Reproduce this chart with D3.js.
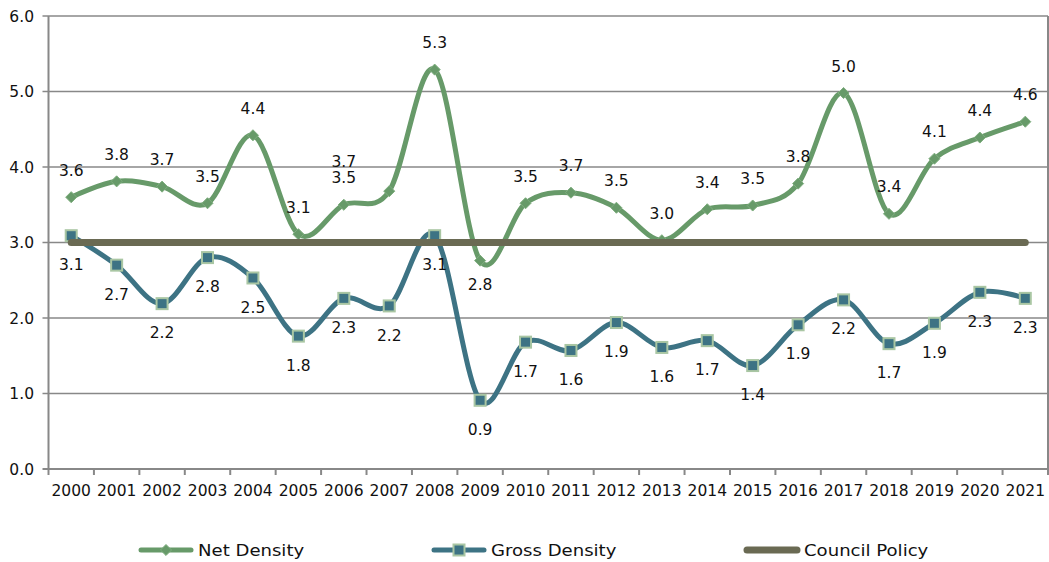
<!DOCTYPE html>
<html>
<head>
<meta charset="utf-8">
<script src="https://cdn.jsdelivr.net/npm/d3@7"></script>
<style>
  html, body { margin: 0; padding: 0; background: #fff; }
  svg { display: block; }
  text { font-family: "DejaVu Sans", Verdana, sans-serif; fill: #111; }
</style>
</head>
<body>
<svg id="chart" width="1049" height="562"></svg>
<script>
// Housing density per year
const years = ["2000","2001","2002","2003","2004","2005","2006","2007","2008","2009","2010",
               "2011","2012","2013","2014","2015","2016","2017","2018","2019","2020","2021"];
const netDensity = [3.60, 3.81, 3.74, 3.52, 4.42, 3.11, 3.50, 3.68, 5.29, 2.76, 3.52,
                    3.66, 3.46, 3.03, 3.44, 3.49, 3.78, 4.98, 3.38, 4.11, 4.39, 4.60];
const grossDensity = [3.09, 2.70, 2.19, 2.80, 2.53, 1.76, 2.26, 2.16, 3.09, 0.91, 1.68,
                      1.57, 1.94, 1.61, 1.70, 1.37, 1.91, 2.24, 1.66, 1.93, 2.34, 2.26];
const councilPolicy = [3.0, 3.0, 3.0, 3.0, 3.0, 3.0, 3.0, 3.0, 3.0, 3.0, 3.0,
                       3.0, 3.0, 3.0, 3.0, 3.0, 3.0, 3.0, 3.0, 3.0, 3.0, 3.0];
const yTicks = [0, 1, 2, 3, 4, 5, 6];
const seriesNames = ["Net Density", "Gross Density", "Council Policy"];
// where each net-density label sits relative to its point
const netLabelPlacement = ["above","above","above","above","above","above","above","aboveLeft",
                           "above","below","above","above","above","above","above","above",
                           "above","above","above","above","above","above"];

const colors = { net: "#679a69", netEdge: "#7fae7f", gross: "#3d7384", grossEdge: "#a9c6a3",
                 council: "#6a6a53", grid: "#888888" };
const FONT = 15.5, STRETCH = 1.0, HALF_CAP = 5.6;

const svg = d3.select("#chart");
const plotLeft = 48.5, plotRight = 1048, plotTop = 16, plotBottom = 469;

const x = d3.scaleBand().domain(years).range([plotLeft, plotRight]).padding(0);
const cx = d => x(d) + x.bandwidth() / 2;
const y = d3.scaleLinear().domain([0, 6]).range([plotBottom, plotTop]);

function label(g, tx, ty, str, anchor, size, sx) {
  return g.append("text")
    .attr("transform", `translate(${tx},${ty}) scale(${sx},1)`)
    .attr("text-anchor", anchor)
    .style("font-size", size + "px")
    .text(str);
}

// Horizontal gridlines
svg.append("g").selectAll("line").data(yTicks.filter(t => t > 0)).join("line")
  .attr("x1", plotLeft - 6).attr("x2", plotRight)
  .attr("y1", d => y(d)).attr("y2", d => y(d))
  .attr("stroke", colors.grid).attr("stroke-width", 1.6);

// Right border of plot area
svg.append("line").attr("x1", plotRight).attr("x2", plotRight).attr("y1", plotTop).attr("y2", plotBottom)
  .attr("stroke", colors.grid).attr("stroke-width", 2);

// Y axis
const yAxis = svg.append("g");
yAxis.append("line").attr("x1", plotLeft).attr("x2", plotLeft).attr("y1", plotTop).attr("y2", plotBottom)
  .attr("stroke", colors.grid).attr("stroke-width", 2);
yAxis.append("line").attr("x1", plotLeft - 6).attr("x2", plotLeft).attr("y1", plotBottom).attr("y2", plotBottom)
  .attr("stroke", colors.grid).attr("stroke-width", 2);
yTicks.forEach(t => label(yAxis, 34, y(t) + HALF_CAP, t.toFixed(1), "end", FONT, STRETCH));

// X axis
const xAxis = svg.append("g");
xAxis.append("line").attr("x1", plotLeft).attr("x2", plotRight).attr("y1", plotBottom).attr("y2", plotBottom)
  .attr("stroke", colors.grid).attr("stroke-width", 2);
const boundaries = years.map(d => x(d)).concat([x(years[years.length - 1]) + x.bandwidth()]);
xAxis.selectAll("line.tick").data(boundaries).join("line").attr("class", "tick")
  .attr("x1", d => d).attr("x2", d => d).attr("y1", plotBottom).attr("y2", plotBottom + 6)
  .attr("stroke", colors.grid).attr("stroke-width", 2);
years.forEach(yr => label(xAxis, cx(yr), 496, yr, "middle", FONT, STRETCH));

const curve = d3.curveCardinal.tension(0);
const lineGen = d3.line().x((d, i) => cx(years[i])).y(d => y(d)).curve(curve);

// Net density
const netG = svg.append("g");
netG.append("path").datum(netDensity).attr("d", lineGen)
  .attr("fill", "none").attr("stroke", colors.net).attr("stroke-width", 5).attr("stroke-linejoin", "round");
netG.selectAll("path.m").data(netDensity).join("path").attr("class", "m")
  .attr("d", d3.symbol().type(d3.symbolDiamond2).size(78))
  .attr("transform", (d, i) => `translate(${cx(years[i])},${y(d)})`)
  .attr("fill", colors.net).attr("stroke", colors.netEdge).attr("stroke-width", 1);

// Gross density
const grossG = svg.append("g");
grossG.append("path").datum(grossDensity).attr("d", lineGen)
  .attr("fill", "none").attr("stroke", colors.gross).attr("stroke-width", 5).attr("stroke-linejoin", "round");
grossG.selectAll("rect").data(grossDensity).join("rect")
  .attr("x", (d, i) => cx(years[i]) - 5.5).attr("y", d => y(d) - 5.5)
  .attr("width", 11).attr("height", 11)
  .attr("fill", colors.gross).attr("stroke", colors.grossEdge).attr("stroke-width", 2);

// Council policy
svg.append("path").datum(councilPolicy)
  .attr("d", d3.line().x((d, i) => cx(years[i])).y(d => y(d)))
  .attr("fill", "none").attr("stroke", colors.council).attr("stroke-width", 7).attr("stroke-linecap", "round");

// Data labels
const lbl = svg.append("g");
netDensity.forEach((v, i) => {
  const px = cx(years[i]), py = y(v);
  const place = netLabelPlacement[i];
  let tx = px, ty = py - 27;
  if (place === "below") ty = py + 24;
  if (place === "aboveLeft") { tx = px - x.bandwidth(); ty = py - 30; }
  label(lbl, tx, ty + HALF_CAP, v.toFixed(1), "middle", FONT, STRETCH);
});
grossDensity.forEach((v, i) => {
  label(lbl, cx(years[i]), y(v) + 29 + HALF_CAP, v.toFixed(1), "middle", FONT, STRETCH);
});

// Legend
const legend = svg.append("g");
const legY = 550;
const legItems = [
  { name: seriesNames[0], x0: 139, color: colors.net, marker: "diamond" },
  { name: seriesNames[1], x0: 432, color: colors.gross, marker: "square" },
  { name: seriesNames[2], x0: 745, color: colors.council, marker: null }
];
legItems.forEach(it => {
  const lw = it.marker ? 5 : 7;
  legend.append("line").attr("x1", it.x0 + 2).attr("x2", it.x0 + 52).attr("y1", legY).attr("y2", legY)
    .attr("stroke", it.color).attr("stroke-width", lw).attr("stroke-linecap", "round");
  const mx = it.x0 + 27;
  if (it.marker === "diamond") {
    legend.append("path").attr("d", d3.symbol().type(d3.symbolDiamond2).size(78))
      .attr("transform", `translate(${mx},${legY})`)
      .attr("fill", colors.net).attr("stroke", colors.netEdge).attr("stroke-width", 1);
  } else if (it.marker === "square") {
    legend.append("rect").attr("x", mx - 5.5).attr("y", legY - 5.5).attr("width", 11).attr("height", 11)
      .attr("fill", colors.gross).attr("stroke", colors.grossEdge).attr("stroke-width", 2);
  }
  label(legend, it.x0 + 59, legY + 5.9, it.name, "start", 16, 1.13);
});
</script>
</body>
</html>
